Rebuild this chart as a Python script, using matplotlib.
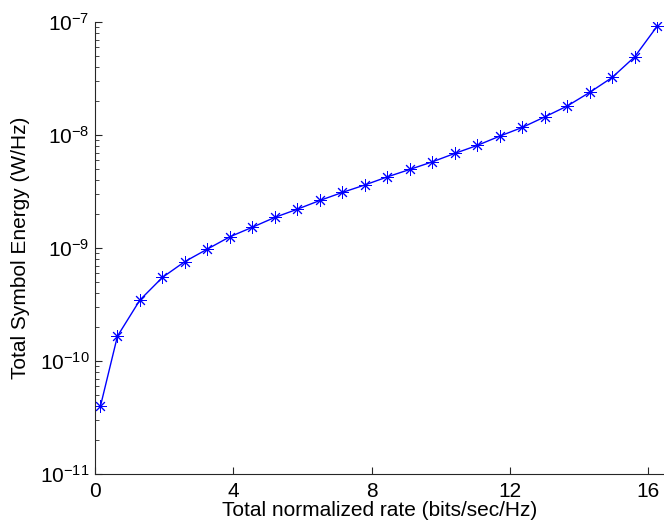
import matplotlib

matplotlib.use("Agg")
import matplotlib.pyplot as plt
from matplotlib.ticker import LogLocator, FixedLocator, NullFormatter

plt.rcParams["font.family"] = ["Liberation Sans", "DejaVu Sans"]
plt.rcParams["mathtext.fontset"] = "custom"
plt.rcParams["mathtext.rm"] = "Liberation Sans"
plt.rcParams["mathtext.it"] = "Liberation Sans:italic"

# total normalized rate (bits/sec/Hz)
rate = [0.16, 0.65, 1.3, 1.95, 2.6, 3.25, 3.9, 4.55, 5.2, 5.85, 6.5, 7.15, 7.8,
        8.45, 9.1, 9.75, 10.4, 11.05, 11.7, 12.35, 13.0, 13.65, 14.3, 14.95,
        15.6, 16.25]
# total symbol energy (W/Hz)
energy = [4.0e-11, 1.66e-10, 3.47e-10, 5.5e-10, 7.6e-10, 9.8e-10, 1.26e-9,
          1.53e-9, 1.87e-9, 2.21e-9, 2.64e-9, 3.11e-9, 3.62e-9, 4.27e-9,
          4.97e-9, 5.80e-9, 6.89e-9, 8.11e-9, 9.8e-9, 1.17e-8, 1.45e-8,
          1.81e-8, 2.39e-8, 3.24e-8, 4.93e-8, 9.2e-8]
x_ticks = [0, 4, 8, 12, 16]

fig = plt.figure(figsize=(6.64, 5.29), dpi=100)
ax = fig.add_axes([0.143, 0.104, 0.857, 0.854])

ax.semilogy(rate, energy, color="#0000ff", marker=(8, 2, 0), markersize=9,
            linewidth=1.0, markeredgewidth=0.7)

ax.set_xlim(0, 16.45)
ax.set_ylim(1e-11, 1e-7)
ax.xaxis.set_major_locator(FixedLocator(x_ticks))
ax.yaxis.set_major_locator(LogLocator(base=10, numticks=10))
ax.yaxis.set_minor_locator(LogLocator(base=10, subs=range(2, 10), numticks=10))
ax.yaxis.set_minor_formatter(NullFormatter())

for side in ("top", "right"):
    ax.spines[side].set_visible(False)
for side in ("left", "bottom"):
    ax.spines[side].set_color("#262626")
    ax.spines[side].set_linewidth(0.8)

ax.tick_params(which="major", direction="in", length=5, width=0.8,
               labelsize=15, colors="#262626", labelcolor="black")
ax.tick_params(which="minor", direction="in", length=3, width=0.6,
               colors="#262626")
ax.tick_params(axis="x", pad=6)
ax.tick_params(axis="y", pad=4)

ax.set_xlabel("Total normalized rate (bits/sec/Hz)", fontsize=15, labelpad=0)
ax.set_ylabel("Total Symbol Energy (W/Hz)", fontsize=15, labelpad=7)

fig.savefig("out.png", dpi=100)
